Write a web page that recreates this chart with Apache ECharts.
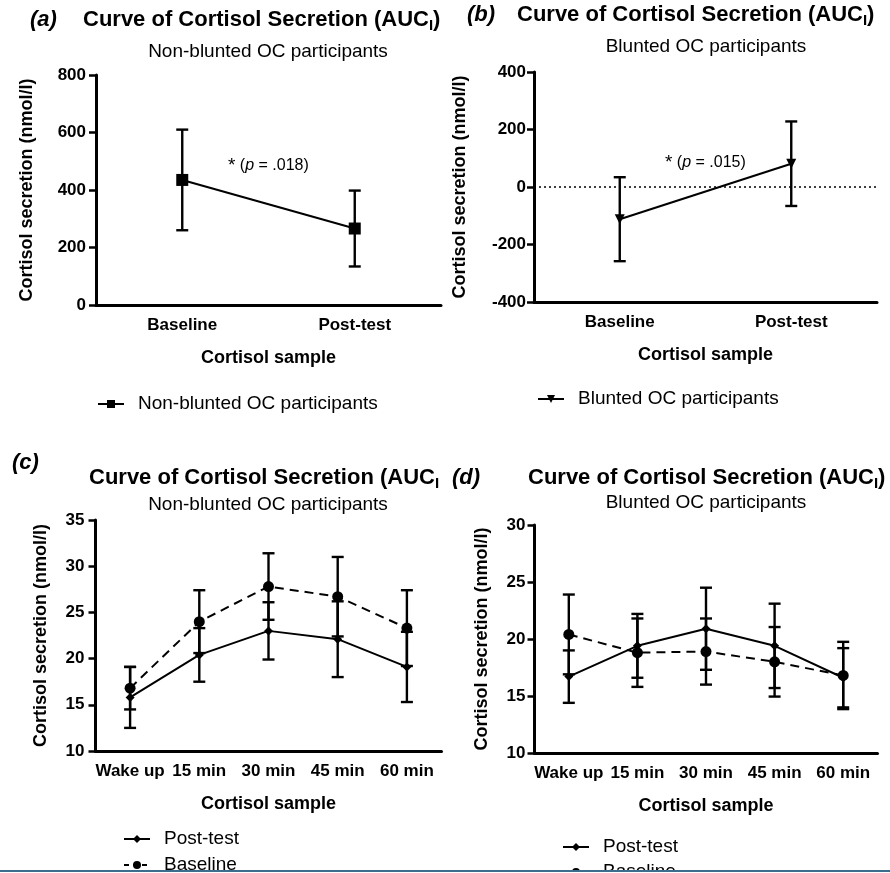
<!DOCTYPE html>
<html>
<head>
<meta charset="utf-8">
<script src="https://cdn.jsdelivr.net/npm/echarts@6/dist/echarts.min.js"></script>
<style>
  html, body { margin: 0; padding: 0; background: #fff; }
  #chart { width: 890px; height: 873px; }
</style>
</head>
<body>
<div id="chart"></div>
<script>
// Four panels: AUC_I per group (a, b) and the awakening curve per group (c, d).
const catsAB = ['Baseline', 'Post-test'];
const aMean = [435, 266];
const aErr = [175, 132];
const bMean = [-112, 81];
const bErr = [146, 147];

const catsCD = ['Wake up', '15 min', '30 min', '45 min', '60 min'];
const cPost = [15.8, 20.4, 23.0, 22.1, 19.1];
const cPostErr = [3.3, 2.9, 3.1, 4.1, 3.8];
const cBase = [16.8, 24.0, 27.8, 26.7, 23.3];
const cBaseErr = [2.3, 3.4, 3.6, 4.3, 4.1];
const dPost = [16.7, 19.4, 20.9, 19.4, 16.6];
const dPostErr = [2.3, 2.8, 3.6, 3.7, 2.6];
const dBase = [20.4, 18.8, 18.9, 18.0, 16.8];
const dBaseErr = [3.5, 3.0, 2.9, 3.05, 2.95];

const FONT = '"Liberation Sans", Arial, sans-serif';
const INK = '#000';

function errData(mean, err) {
  return mean.map((m, i) => [i, m - err[i], m + err[i]]);
}

function errRender(params, api) {
  const x = api.value(0);
  const top = api.coord([x, api.value(2)]);
  const bot = api.coord([x, api.value(1)]);
  const hw = 6;
  const st = { stroke: INK, lineWidth: 2.4 };
  return {
    type: 'group',
    children: [
      { type: 'line', shape: { x1: top[0], y1: top[1], x2: bot[0], y2: bot[1] }, style: st },
      { type: 'line', shape: { x1: top[0] - hw, y1: top[1], x2: top[0] + hw, y2: top[1] }, style: st },
      { type: 'line', shape: { x1: bot[0] - hw, y1: bot[1], x2: bot[0] + hw, y2: bot[1] }, style: st },
    ],
  };
}

function errSeries(idx, mean, err) {
  return {
    type: 'custom', name: 'err' + idx + '-' + mean[0],
    xAxisIndex: idx, yAxisIndex: idx,
    renderItem: errRender,
    encode: { x: 0, y: [1, 2] },
    data: errData(mean, err),
    silent: true, z: 3,
  };
}

function lineSeries(idx, name, data, symbol, size, dashed, extra) {
  return Object.assign({
    type: 'line', name, data,
    xAxisIndex: idx, yAxisIndex: idx,
    symbol, symbolSize: size,
    itemStyle: { color: INK },
    lineStyle: { color: INK, width: 2, type: dashed ? [9, 6] : 'solid' },
    z: 4,
  }, extra || {});
}

function xAxis(idx, cats) {
  return {
    type: 'category', gridIndex: idx, data: cats, boundaryGap: true,
    name: 'Cortisol sample', nameLocation: 'middle', nameGap: 44,
    nameTextStyle: { fontFamily: FONT, fontWeight: 'bold', fontSize: 18, color: INK },
    axisLine: { onZero: false, lineStyle: { color: INK, width: 3 } },
    axisTick: { alignWithLabel: true, length: 7, lineStyle: { color: INK, width: 2.5 } },
    axisLabel: { interval: 0, margin: 12, fontFamily: FONT, fontWeight: 'bold', fontSize: 17, color: INK },
    splitLine: { show: false },
  };
}

function yAxis(idx, min, max, interval, gap, margin) {
  return {
    type: 'value', gridIndex: idx, min, max, interval,
    name: 'Cortisol secretion (nmol/l)', nameLocation: 'middle', nameGap: gap,
    nameTextStyle: { fontFamily: FONT, fontWeight: 'bold', fontSize: 18, color: INK },
    axisLine: { show: true, lineStyle: { color: INK, width: 3 } },
    axisTick: { show: true, length: 7, lineStyle: { color: INK, width: 2.5 } },
    axisLabel: { margin, fontFamily: FONT, fontWeight: 'bold', fontSize: 17, color: INK },
    splitLine: { show: false },
  };
}

function txt(text, x, y, size, opts) {
  return {
    type: 'text', z: 10,
    style: Object.assign({
      text, x, y,
      fontFamily: FONT, fontSize: size, fill: INK,
      textAlign: 'left', textVerticalAlign: 'middle',
    }, opts || {}),
  };
}

const titleRich = {
  sub: { fontFamily: FONT, fontSize: 15, fontWeight: 'bold', verticalAlign: 'bottom', lineHeight: 27 },
};
const noteRich = {
  s: { fontFamily: FONT, fontSize: 19, verticalAlign: 'top', lineHeight: 20 },
  i: { fontFamily: FONT, fontSize: 16, fontStyle: 'italic', lineHeight: 20 },
};

// one legend per entry so nothing wraps near the page edge
function legend(left, top, name, dashed) {
  const item = dashed ? { name, lineStyle: { type: [5, 4] } } : { name };
  return {
    data: [item], left, top, padding: 0,
    itemWidth: 26, itemHeight: 10,
    selectedMode: false,
    textStyle: { fontFamily: FONT, fontSize: 19, color: INK, padding: [0, 0, 0, 9], lineHeight: 20 },
  };
}

const chart = echarts.init(document.getElementById('chart'));
chart.setOption({
  animation: false,
  backgroundColor: '#fff',
  grid: [
    { left: 96, top: 75, width: 345, height: 230 },
    { left: 534, top: 72, width: 343, height: 230 },
    { left: 95.5, top: 520, width: 346, height: 231 },
    { left: 534.5, top: 525, width: 343, height: 228 },
  ],
  xAxis: [xAxis(0, catsAB), xAxis(1, catsAB), xAxis(2, catsCD), xAxis(3, catsCD)],
  yAxis: [
    yAxis(0, 0, 800, 200, 60, 10),
    yAxis(1, -400, 400, 200, 65, 8),
    yAxis(2, 10, 35, 5, 45, 11),
    yAxis(3, 10, 30, 5, 43, 9),
  ],
  legend: [
    legend(97, 394, 'Non-blunted OC participants'),
    legend(537, 389, 'Blunted OC participants'),
    legend(123, 829, 'Post-test'),
    legend(123, 855, 'Baseline', true),
    legend(562, 837, 'Post-test'),
    legend(562, 862, 'Baseline', true),
  ],
  series: [
    errSeries(0, aMean, aErr),
    lineSeries(0, 'Non-blunted OC participants', aMean, 'rect', 12, false),
    errSeries(1, bMean, bErr),
    lineSeries(1, 'Blunted OC participants', bMean, 'triangle', 10, false, {
      symbolRotate: 180,
      markLine: {
        silent: true, symbol: 'none', label: { show: false },
        lineStyle: { color: INK, type: [2, 3], width: 1.5 },
        data: [{ yAxis: 0 }],
      },
    }),
    errSeries(2, cPost, cPostErr),
    errSeries(2, cBase, cBaseErr),
    lineSeries(2, 'Post-test', cPost, 'diamond', 9, false),
    lineSeries(2, 'Baseline', cBase, 'circle', 11, true),
    errSeries(3, dPost, dPostErr),
    errSeries(3, dBase, dBaseErr),
    lineSeries(3, 'Post-test', dPost, 'diamond', 9, false),
    lineSeries(3, 'Baseline', dBase, 'circle', 11, true),
  ],
  graphic: [
    txt('(a)', 30, 20, 22, { fontWeight: 'bold', fontStyle: 'italic' }),
    txt('Curve of Cortisol Secretion (AUC{sub|I})', 83, 20, 22, { fontWeight: 'bold', rich: titleRich }),
    txt('Non-blunted OC participants', 268, 52, 19, { textAlign: 'center' }),
    txt('{s|*} ({i|p} = .018)', 228, 166, 16, { rich: noteRich }),

    txt('(b)', 467, 15, 22, { fontWeight: 'bold', fontStyle: 'italic' }),
    txt('Curve of Cortisol Secretion (AUC{sub|I})', 517, 15, 22, { fontWeight: 'bold', rich: titleRich }),
    txt('Blunted OC participants', 706, 47, 19, { textAlign: 'center' }),
    txt('{s|*} ({i|p} = .015)', 665, 163, 16, { rich: noteRich }),

    txt('(c)', 12, 463, 22, { fontWeight: 'bold', fontStyle: 'italic' }),
    txt('Curve of Cortisol Secretion (AUC{sub|I}', 89, 478, 22, { fontWeight: 'bold', rich: titleRich }),
    txt('Non-blunted OC participants', 268, 505, 19, { textAlign: 'center' }),

    txt('(d)', 452, 478, 22, { fontWeight: 'bold', fontStyle: 'italic' }),
    txt('Curve of Cortisol Secretion (AUC{sub|I})', 528, 478, 22, { fontWeight: 'bold', rich: titleRich }),
    txt('Blunted OC participants', 706, 503, 19, { textAlign: 'center' }),

    // page edge: figure is cut off by a rule along the bottom
    { type: 'rect', z: 20, shape: { x: 0, y: 870, width: 890, height: 3 }, style: { fill: '#fff' } },
    { type: 'rect', z: 21, shape: { x: 0, y: 870, width: 890, height: 2 }, style: { fill: '#3b6e8c' } },
  ],
});
</script>
</body>
</html>
